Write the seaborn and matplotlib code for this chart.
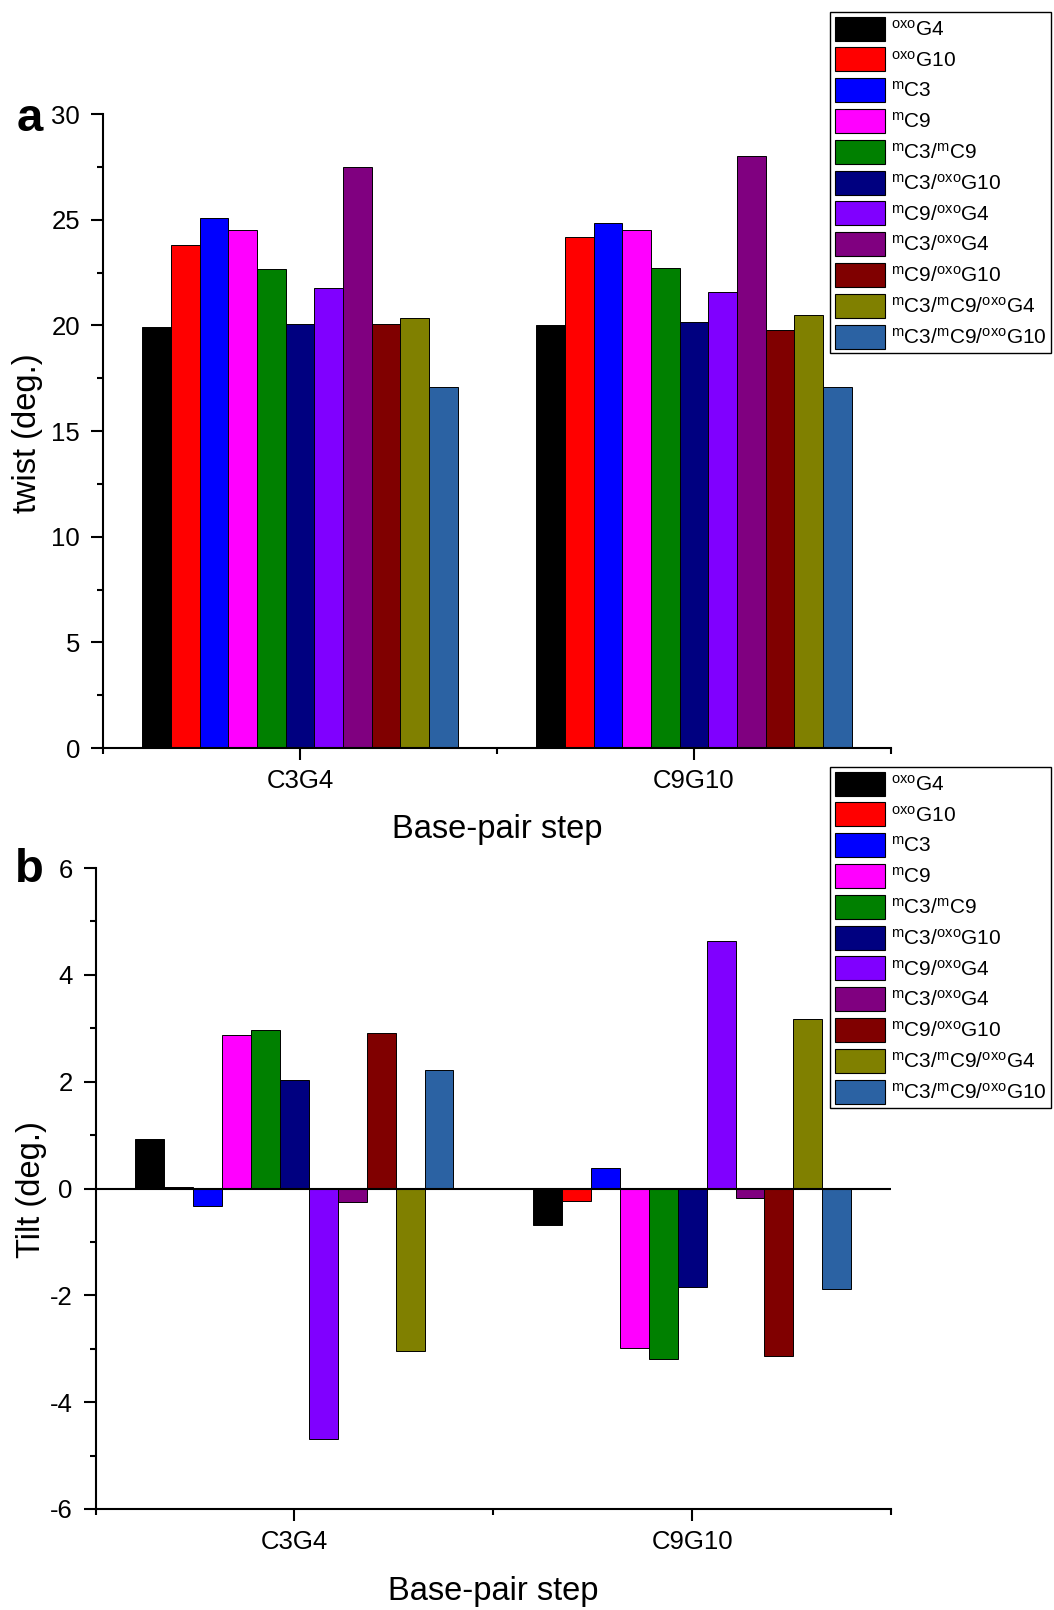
import numpy as np
import pandas as pd
import matplotlib
matplotlib.use("Agg")
import matplotlib.pyplot as plt
from matplotlib.ticker import MultipleLocator, FixedLocator
import seaborn as sns

# ---------------- data ----------------
steps = ["C3G4", "C9G10"]
variants = [
    r"${}^{\mathrm{oxo}}$G4",
    r"${}^{\mathrm{oxo}}$G10",
    r"${}^{\mathrm{m}}$C3",
    r"${}^{\mathrm{m}}$C9",
    r"${}^{\mathrm{m}}$C3/${}^{\mathrm{m}}$C9",
    r"${}^{\mathrm{m}}$C3/${}^{\mathrm{oxo}}$G10",
    r"${}^{\mathrm{m}}$C9/${}^{\mathrm{oxo}}$G4",
    r"${}^{\mathrm{m}}$C3/${}^{\mathrm{oxo}}$G4",
    r"${}^{\mathrm{m}}$C9/${}^{\mathrm{oxo}}$G10",
    r"${}^{\mathrm{m}}$C3/${}^{\mathrm{m}}$C9/${}^{\mathrm{oxo}}$G4",
    r"${}^{\mathrm{m}}$C3/${}^{\mathrm{m}}$C9/${}^{\mathrm{oxo}}$G10",
]
colors = ["#000000", "#FF0000", "#0000FF", "#FF00FF", "#008000", "#000080",
          "#8000FF", "#800080", "#800000", "#808000", "#2B62A3"]

twist_C3G4 = [19.9, 23.8, 25.1, 24.5, 22.65, 20.05, 21.75, 27.5, 20.05, 20.35, 17.1]
twist_C9G10 = [20.0, 24.2, 24.85, 24.5, 22.7, 20.15, 21.6, 28.0, 19.8, 20.5, 17.1]
tilt_C3G4 = [0.93, 0.03, -0.32, 2.88, 2.96, 2.03, -4.69, -0.26, 2.91, -3.04, 2.21]
tilt_C9G10 = [-0.69, -0.24, 0.38, -2.99, -3.19, -1.85, 4.63, -0.18, -3.14, 3.18, -1.89]

twist_ticks = [0, 5, 10, 15, 20, 25, 30]
tilt_ticks = [-6, -4, -2, 0, 2, 4, 6]

df = pd.DataFrame({
    "step": [steps[0]] * len(variants) + [steps[1]] * len(variants),
    "variant": variants + variants,
    "twist": twist_C3G4 + twist_C9G10,
    "tilt": tilt_C3G4 + tilt_C9G10,
})

# ---------------- style ----------------
sns.set_style("ticks")
plt.rcParams["font.family"] = ["Liberation Sans", "DejaVu Sans"]
plt.rcParams["mathtext.fontset"] = "custom"
plt.rcParams["mathtext.rm"] = "Liberation Sans"
plt.rcParams["mathtext.it"] = "Liberation Sans:italic"
plt.rcParams["mathtext.bf"] = "Liberation Sans:bold"
plt.rcParams["axes.unicode_minus"] = False
for k in ("text.color", "axes.labelcolor", "xtick.color", "ytick.color"):
    plt.rcParams[k] = "black"

W, H = 1054, 1610
fig = plt.figure(figsize=(W / 100, H / 100), dpi=100)

ax1 = fig.add_axes([103 / W, 1 - 748 / H, (891 - 103) / W, (748 - 114) / H])
ax2 = fig.add_axes([95.5 / W, 1 - 1509 / H, (891 - 95.5) / W, (1509 - 868) / H])

palette = dict(zip(variants, colors))

for ax, col in [(ax1, "twist"), (ax2, "tilt")]:
    sns.barplot(data=df, x="step", y=col, hue="variant", hue_order=variants,
                order=steps, palette=palette, saturation=1, width=0.8,
                edgecolor="black", linewidth=0.7, ax=ax, errorbar=None)

for ax in (ax1, ax2):
    for side in ("top", "right"):
        ax.spines[side].set_visible(False)
    for side in ("left", "bottom"):
        ax.spines[side].set_linewidth(1.5)
        ax.spines[side].set_color("black")
    ax.set_xlim(-0.5, 1.5)
    ax.xaxis.set_minor_locator(FixedLocator([-0.5, 0.5, 1.5]))
    ax.tick_params(axis="both", which="major", direction="out", length=8.5,
                   width=1.5, labelsize=18.5, color="black", pad=6.5)
    ax.tick_params(axis="both", which="minor", direction="out", length=4.3,
                   width=1.5, color="black")
    ax.tick_params(axis="y", which="major", pad=8)

ax1.set_ylim(0, 30)
ax1.set_yticks(twist_ticks)
ax1.yaxis.set_minor_locator(MultipleLocator(2.5))

ax2.set_ylim(-6, 6)
ax2.set_yticks(tilt_ticks)
ax2.yaxis.set_minor_locator(MultipleLocator(1))
ax2.axhline(0, color="black", linewidth=1.5, zorder=5)

ax1.set_ylabel("twist (deg.)", fontsize=23.5, va="center")
ax1.yaxis.set_label_coords(-0.096, 0.497)
ax1.set_xlabel("Base-pair step", fontsize=23.5, va="center")
ax1.xaxis.set_label_coords(0.5, -0.128)

ax2.set_ylabel("Tilt (deg.)", fontsize=23.5, va="center")
ax2.yaxis.set_label_coords(-0.081, 0.498)
ax2.set_xlabel("Base-pair step", fontsize=23.5, va="center")
ax2.xaxis.set_label_coords(0.5, -0.128)

# legends
for ax, top in [(ax1, 12), (ax2, 767)]:
    handles, labels = ax.get_legend_handles_labels()
    leg = ax.legend(handles, labels, loc="upper left",
                    bbox_to_anchor=(830 / W, 1 - top / H),
                    bbox_transform=fig.transFigure, borderaxespad=0,
                    fontsize=15, handlelength=2.4, handleheight=1.39,
                    handletextpad=0.29, labelspacing=0.33, borderpad=0.22,
                    frameon=True, fancybox=False, framealpha=1)
    leg.get_frame().set_edgecolor("black")
    leg.get_frame().set_linewidth(1.0)
    for p in leg.get_patches():
        p.set_edgecolor("black")
        p.set_linewidth(0.8)

fig.text(30 / W, 1 - 131 / H, "a", fontsize=34, fontweight="bold", ha="center",
         va="baseline")
fig.text(29 / W, 1 - 882 / H, "b", fontsize=34, fontweight="bold", ha="center",
         va="baseline")

fig.savefig("out.png", dpi=100)
